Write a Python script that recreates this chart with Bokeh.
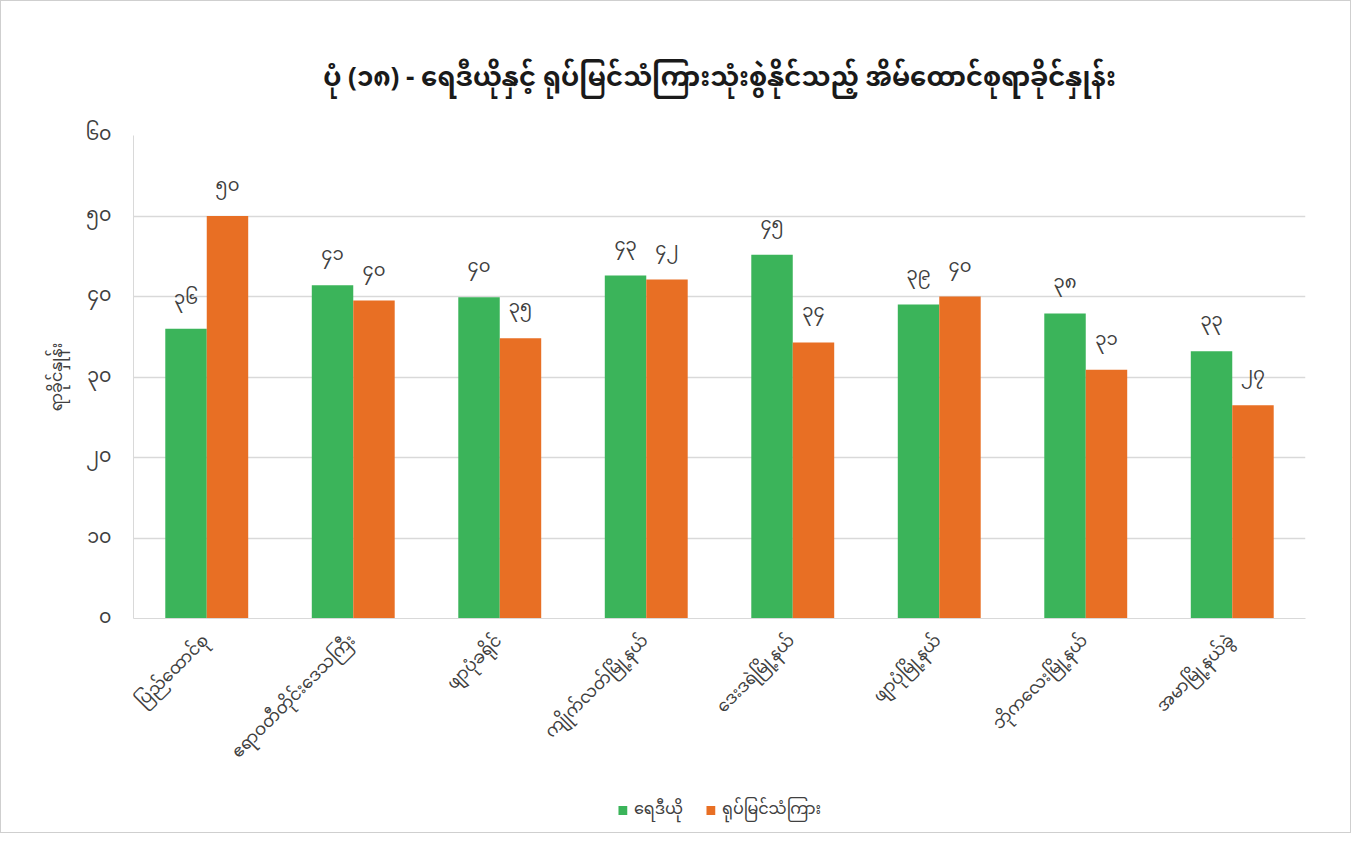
from bokeh.plotting import figure
from bokeh.models import ColumnDataSource, FactorRange, LabelSet, Legend, LegendItem, FixedTicker, Range1d
from bokeh.layouts import column
from bokeh.transform import dodge
from bokeh.embed import file_html
from bokeh.resources import INLINE
from bokeh.core.properties import value

FONT = "Noto Sans Myanmar, Padauk, Myanmar Text, Noto Sans, sans-serif"

title_text = "ပုံ (၁၈) - ရေဒီယိုနှင့် ရုပ်မြင်သံကြားသုံးစွဲနိုင်သည့် အိမ်ထောင်စုရာခိုင်နှုန်း"
y_title = "ရာခိုင်နှုန်း"
categories = ["ပြည်ထောင်စု", "ဧရာဝတီတိုင်းဒေသကြီး", "ဖျာပုံခရိုင်", "ကျိုက်လတ်မြို့နယ်",
              "ဒေးဒရဲမြို့နယ်", "ဖျာပုံမြို့နယ်", "ဘိုကလေးမြို့နယ်", "အမာမြို့နယ်ခွဲ"]
series_names = ["ရေဒီယို", "ရုပ်မြင်သံကြား"]
radio = [36.0, 41.4, 39.9, 42.6, 45.2, 39.0, 37.9, 33.2]
tv = [50.0, 39.5, 34.8, 42.1, 34.3, 40.0, 30.9, 26.5]
y_ticks = [0, 10, 20, 30, 40, 50, 60]

MM = str.maketrans("0123456789", "၀၁၂၃၄၅၆၇၈၉")
def mm(n):
    return str(n).translate(MM)

def mm_round(v):
    return mm(int(v + 0.5))

src = ColumnDataSource(dict(
    cat=categories, radio=radio, tv=tv,
    radio_lbl=[mm_round(v) for v in radio],
    tv_lbl=[mm_round(v) for v in tv],
))

TOTAL_W = 132 + 1172 + 45

p = figure(x_range=FactorRange(*categories), y_range=(0, 60),
           frame_width=1172, frame_height=483, output_backend="svg", toolbar_location=None,
           min_border_left=132, min_border_right=45, min_border_top=134, min_border_bottom=170)

p.title.text = title_text
p.title.align = "center"
p.title.text_font = FONT
p.title.text_font_size = "26px"
p.title.text_font_style = "bold"
p.title.text_color = "#1a1a1a"
p.title.standoff = 56

GREEN = "#3bb45a"
ORANGE = "#e86f24"
W = 0.283
p.vbar(x=dodge("cat", -W / 2, range=p.x_range), top="radio", width=W, source=src,
       fill_color=GREEN, line_color=None)
p.vbar(x=dodge("cat", W / 2, range=p.x_range), top="tv", width=W, source=src,
       fill_color=ORANGE, line_color=None)

for col, off in (("radio", -W / 2), ("tv", W / 2)):
    p.add_layout(LabelSet(x=dodge("cat", off, range=p.x_range), y=col, text=col + "_lbl",
                          source=src, text_align="center", text_baseline="bottom",
                          y_offset=10, text_font=value(FONT), text_font_size="18px",
                          text_color="#404040"))

p.yaxis.ticker = FixedTicker(ticks=y_ticks)
p.yaxis.major_label_overrides = {t: mm(t) for t in y_ticks}
p.yaxis.axis_label = y_title
p.yaxis.axis_label_text_font = FONT
p.yaxis.axis_label_text_font_size = "16px"
p.yaxis.axis_label_text_font_style = "normal"
p.yaxis.axis_label_text_color = "#404040"
p.yaxis.axis_label_standoff = 6
p.yaxis.axis_line_color = "#d9d9d9"
p.yaxis.major_tick_line_color = None
p.yaxis.minor_tick_line_color = None
p.yaxis.major_label_standoff = 16
p.yaxis.major_label_text_font_size = "19px"

p.xaxis.axis_line_color = "#d9d9d9"
p.xaxis.major_tick_line_color = None
p.xaxis.minor_tick_line_color = None
p.xaxis.major_label_orientation = 0.785
p.xaxis.major_label_standoff = 14
p.xaxis.major_label_text_font_size = "17px"

for ax in (p.xaxis, p.yaxis):
    ax.major_label_text_font = FONT
    ax.major_label_text_color = "#404040"

p.xgrid.grid_line_color = None
p.ygrid.grid_line_color = "#d9d9d9"
p.ygrid.grid_line_width = 1.5
p.outline_line_color = None
p.x_range.range_padding = 0
p.x_range.group_padding = 0

# legend strip: a second figure sharing the data; its bars lie outside its view
leg = figure(x_range=p.x_range, y_range=Range1d(1000, 1001), width=TOTAL_W, height=44,
             output_backend="svg", toolbar_location=None,
             x_axis_location=None, y_axis_location=None, min_border=0)
leg.outline_line_color = None
leg.grid.visible = False
l1 = leg.vbar(x=dodge("cat", -W / 2, range=p.x_range), top="radio", width=W, source=src,
              fill_color=GREEN, line_color=None)
l2 = leg.vbar(x=dodge("cat", W / 2, range=p.x_range), top="tv", width=W, source=src,
              fill_color=ORANGE, line_color=None)
legend = Legend(items=[LegendItem(label=series_names[0], renderers=[l1]),
                       LegendItem(label=series_names[1], renderers=[l2])],
                orientation="horizontal", location="center",
                label_text_font=FONT, label_text_font_size="16px",
                label_text_color="#404040", glyph_width=11, glyph_height=11,
                label_standoff=6, spacing=22, padding=2,
                border_line_color=None, background_fill_alpha=0, margin=0)
leg.add_layout(legend, "center")

layout = column(p, leg, spacing=0, styles={"border": "1px solid #cfcfcf"})

open("out.html", "w").write(file_html(layout, INLINE))
